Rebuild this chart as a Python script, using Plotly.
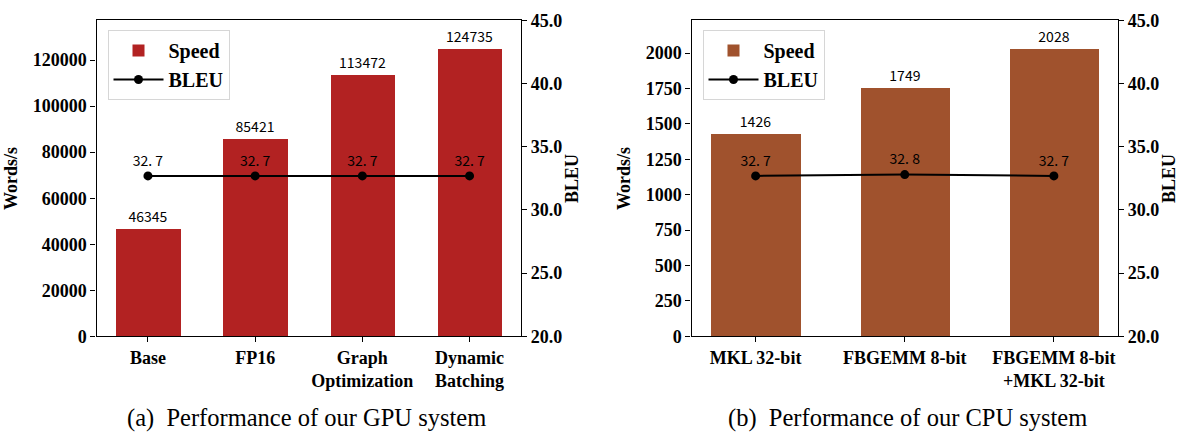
import plotly.graph_objects as go

gpu_categories = ["Base", "FP16", "Graph<br>Optimization", "Dynamic<br>Batching"]
gpu_speed = [46345, 85421, 113472, 124735]
gpu_bleu = [32.7, 32.7, 32.7, 32.7]

cpu_categories = ["MKL 32-bit", "FBGEMM 8-bit", "FBGEMM 8-bit<br>+MKL 32-bit"]
cpu_speed = [1426, 1749, 2028]
cpu_bleu = [32.7, 32.8, 32.7]

bleu_ticks = [20.0, 25.0, 30.0, 35.0, 40.0, 45.0]

SERIF = "Liberation Serif"
SANS = "Noto Sans CJK SC"
W, H = 1179, 436


def fmt_bleu(v):
    return f"{v:.1f}".replace(".", ". ")


def bar(x, y, color, xa, ya, lg):
    return go.Bar(
        x=x, y=y, width=0.6, marker=dict(color=color, line=dict(width=0)),
        text=[str(v) for v in y], textposition="outside",
        textfont=dict(family=SANS, size=14, color="black"), cliponaxis=False,
        name="<b>Speed</b>", xaxis=xa, yaxis=ya, legend=lg,
    )


def line(x, y, xa, ya, lg):
    return go.Scatter(
        x=x, y=y, mode="lines+markers+text",
        line=dict(color="black", width=2), marker=dict(color="black", size=9),
        text=[fmt_bleu(v) for v in y], textposition="top center",
        textfont=dict(family=SANS, size=14, color="black"), cliponaxis=False,
        name="<b>BLEU</b>", xaxis=xa, yaxis=ya, legend=lg,
    )


gx = list(range(len(gpu_categories)))
cx = list(range(len(cpu_categories)))

fig = go.Figure([
    bar(gx, gpu_speed, "#B22222", "x", "y", "legend"),
    line(gx, gpu_bleu, "x", "y2", "legend"),
    bar(cx, cpu_speed, "#A0522D", "x2", "y3", "legend2"),
    line(cx, cpu_bleu, "x2", "y4", "legend2"),
])

ydom = [(H - 342) / H, (H - 11) / H]


def axis_common():
    return dict(showline=True, linecolor="black", linewidth=1.3,
                ticks="outside", ticklen=5, tickwidth=1.2, tickcolor="black",
                showgrid=False, zeroline=False, ticklabeloverflow="allow",
                tickfont=dict(family=SERIF, size=18, color="black"))


def ttl(text, standoff):
    return dict(text=f"<b>{text}</b>", font=dict(family=SERIF, size=18, color="black"),
                standoff=standoff)


def legend_at(px):
    return dict(x=px / W, y=(H - 21) / H, xanchor="left", yanchor="top",
                bgcolor="rgba(255,255,255,0.8)", bordercolor="#d6d6d6", borderwidth=1,
                font=dict(family=SERIF, size=20, color="black"), itemwidth=50,
                tracegroupgap=4)


fig.update_layout(
    width=W, height=H, autosize=False, margin=dict(l=0, r=0, t=0, b=0, pad=0),
    font=dict(family=SERIF, color="black"),
    paper_bgcolor="white", plot_bgcolor="white", bargap=0,
    xaxis=dict(domain=[96.5 / W, 521 / W], range=[-0.48, 3.48], mirror=True,
               tickmode="array", tickvals=gx,
               ticktext=[f"<b>{c}</b>" for c in gpu_categories], anchor="y", **axis_common()),
    yaxis=dict(domain=ydom, range=[0, max(gpu_speed) * 1.1], dtick=20000,
               tickformat="d", anchor="x", title=ttl("Words/s", 10),
               tickprefix="<b>", ticksuffix="</b>", **axis_common()),
    yaxis2=dict(overlaying="y", side="right", anchor="x", range=[20, 45],
                tickmode="array", tickvals=bleu_ticks,
                ticktext=[f"<b>{t:.1f}</b>" for t in bleu_ticks],
                title=ttl("BLEU", 4), **axis_common()),
    xaxis2=dict(domain=[691.5 / W, 1118 / W], range=[-0.43, 2.43], mirror=True,
                tickmode="array", tickvals=cx,
                ticktext=[f"<b>{c}</b>" for c in cpu_categories], anchor="y3", **axis_common()),
    yaxis3=dict(domain=ydom, range=[0, max(cpu_speed) * 1.1], dtick=250,
                tickformat="d", anchor="x2", title=ttl("Words/s", 10),
                tickprefix="<b>", ticksuffix="</b>", **axis_common()),
    yaxis4=dict(overlaying="y3", side="right", anchor="x2", range=[20, 45],
                tickmode="array", tickvals=bleu_ticks,
                ticktext=[f"<b>{t:.1f}</b>" for t in bleu_ticks],
                title=ttl("BLEU", 4), **axis_common()),
    legend=legend_at(107.5),
    legend2=legend_at(702.5),
    annotations=[
        dict(text="(a)  Performance of our GPU system", x=306.5 / W, y=0,
             xref="paper", yref="paper", showarrow=False, xanchor="center", yanchor="bottom",
             yshift=-8, font=dict(family=SERIF, size=24.5, color="black")),
        dict(text="(b)  Performance of our CPU system", x=907.5 / W, y=0,
             xref="paper", yref="paper", showarrow=False, xanchor="center", yanchor="bottom",
             yshift=-8, font=dict(family=SERIF, size=24.5, color="black")),
    ],
)

fig.write_html(
    "out.html",
    config={"responsive": False, "displayModeBar": False},
    post_script="document.body.style.margin='0';document.body.style.padding='0';",
)
